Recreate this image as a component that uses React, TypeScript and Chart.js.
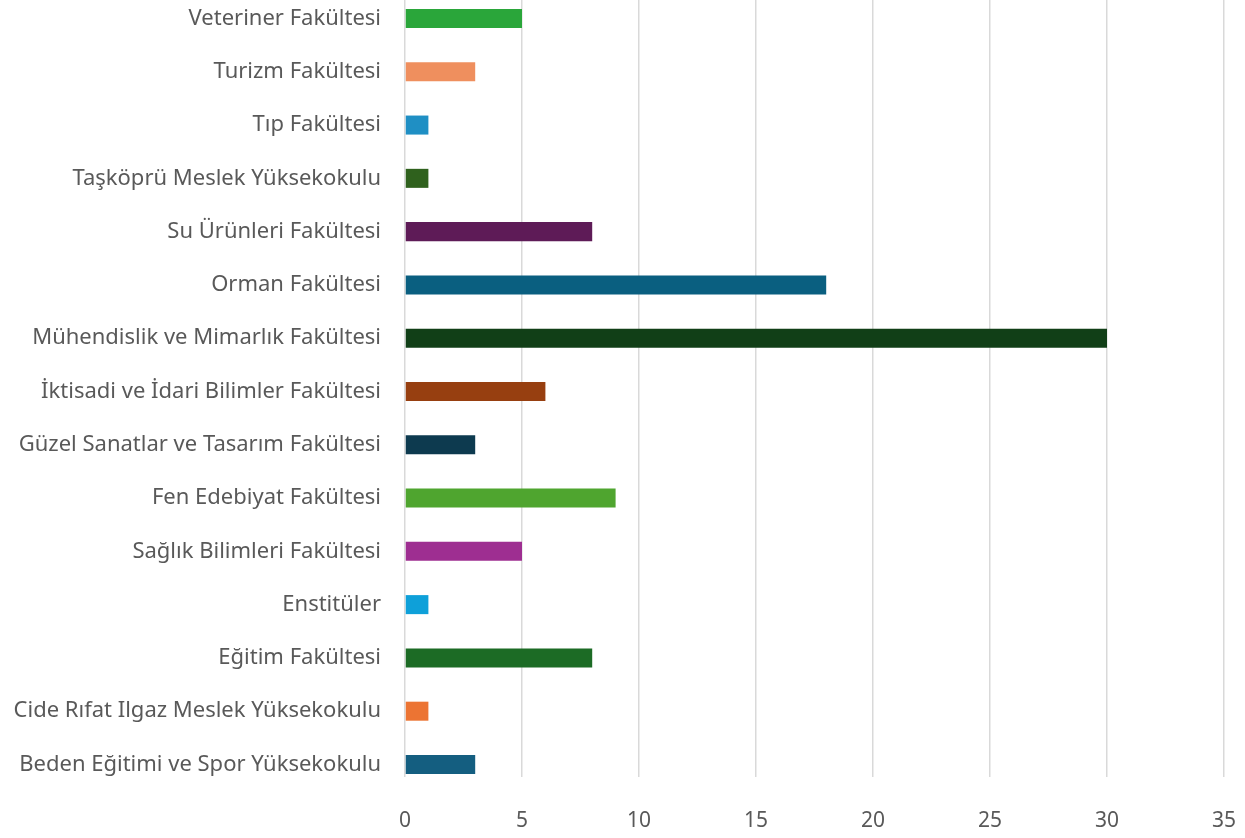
import React, { useEffect, useRef } from "react";
import { Chart, registerables } from "chart.js";

Chart.register(...registerables);

const categories = [
  "Beden Eğitimi ve Spor Yüksekokulu",
  "Cide Rıfat Ilgaz Meslek Yüksekokulu",
  "Eğitim Fakültesi",
  "Enstitüler",
  "Sağlık Bilimleri Fakültesi",
  "Fen Edebiyat Fakültesi",
  "Güzel Sanatlar ve Tasarım Fakültesi",
  "İktisadi ve İdari Bilimler Fakültesi",
  "Mühendislik ve Mimarlık Fakültesi",
  "Orman Fakültesi",
  "Su Ürünleri Fakültesi",
  "Taşköprü Meslek Yüksekokulu",
  "Tıp Fakültesi",
  "Turizm Fakültesi",
  "Veteriner Fakültesi",
];

const values = [3, 1, 8, 1, 5, 9, 3, 6, 30, 18, 8, 1, 1, 3, 5];

const barColors = [
  "#145e80",
  "#ec7433",
  "#1c6b25",
  "#0ea0d9",
  "#9e2e91",
  "#4fa52f",
  "#0d3a4f",
  "#973f10",
  "#113f17",
  "#0a5f80",
  "#5e1b57",
  "#2f611d",
  "#1f8fc4",
  "#ef8f5e",
  "#2aa63a",
];

const xTicks = [0, 5, 10, 15, 20, 25, 30, 35];

export default function App() {
  const ref = useRef<HTMLCanvasElement | null>(null);

  useEffect(() => {
    if (!ref.current) return;
    const chart = new Chart(ref.current, {
      type: "bar",
      data: {
        datasets: [
          {
            data: values.map((v, i) => ({ x: v, y: i })),
            backgroundColor: barColors,
            borderWidth: 0,
            categoryPercentage: 1,
            barPercentage: 0.357,
          },
        ],
      },
      options: {
        indexAxis: "y",
        animation: false,
        responsive: false,
        maintainAspectRatio: false,
        layout: { padding: { left: 0, right: 21, top: 0, bottom: 0 } },
        plugins: {
          legend: { display: false },
          tooltip: { enabled: false },
        },
        scales: {
          x: {
            type: "linear",
            min: 0,
            max: 35,
            afterBuildTicks: (scale: any) => {
              scale.ticks = xTicks.map((v) => ({ value: v }));
            },
            afterFit: (scale: any) => {
              scale.height = 61;
              scale.paddingLeft = 0;
              scale.paddingRight = 0;
            },
            grid: {
              color: "#d9d9d9",
              lineWidth: 1.5,
              drawTicks: false,
            },
            border: { display: false },
            ticks: {
              color: "#595959",
              padding: 31,
              font: { family: "'Noto Sans', sans-serif", size: 21 },
            },
          },
          y: {
            type: "linear",
            offset: false,
            min: -0.235,
            max: 14.347,
            afterBuildTicks: (scale: any) => {
              scale.ticks = categories.map((_, i) => ({ value: i }));
            },
            afterFit: (scale: any) => {
              scale.width = 405;
              scale.paddingTop = 0;
              scale.paddingBottom = 0;
            },
            grid: { display: false, drawTicks: false, offset: false },
            border: { display: false },
            ticks: {
              color: "#595959",
              padding: 24,
              autoSkip: false,
              font: { family: "'Noto Sans', sans-serif", size: 22 },
              callback: (v: any) => categories[v as number] ?? "",
            },
          },
        },
      },
    });
    return () => chart.destroy();
  }, []);

  return (
    <div style={{ position: "fixed", left: 0, top: 0, width: 1245, height: 838, background: "#fff" }}>
      <canvas ref={ref} width={1245} height={838} style={{ display: "block" }} />
    </div>
  );
}
